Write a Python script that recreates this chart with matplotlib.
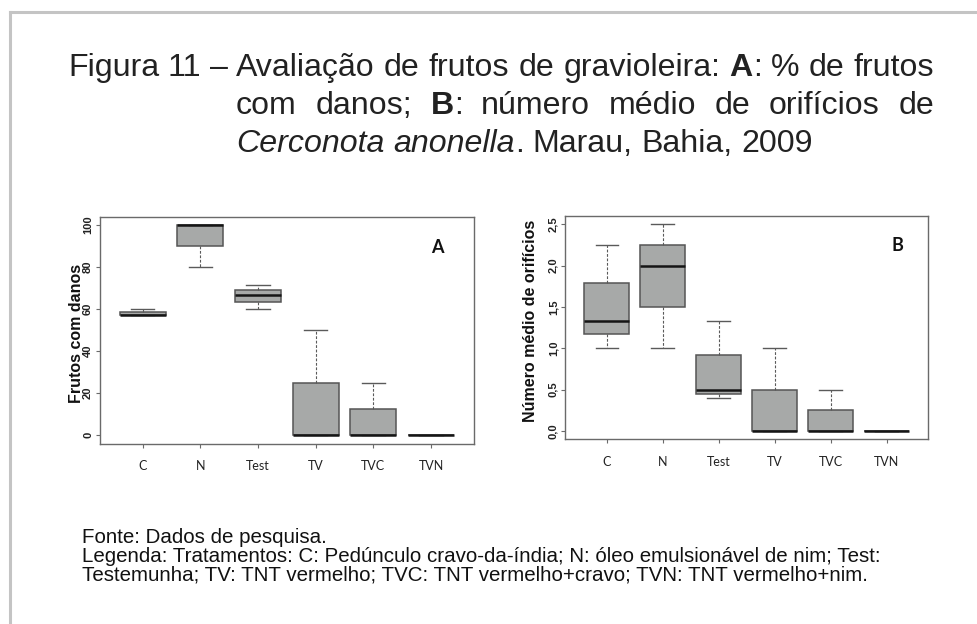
import matplotlib
matplotlib.use("Agg")
import matplotlib.pyplot as plt
from matplotlib.lines import Line2D

W, H = 977, 624

tratamentos = ["C", "N", "Test", "TV", "TVC", "TVN"]

# A: frutos com danos (%)
a_whislo = [57.1, 80, 60, 0, 0, 0]
a_q1 = [57.1, 90, 63.2, 0, 0, 0]
a_med = [57.1, 100, 66.7, 0, 0, 0]
a_q3 = [58.5, 100, 69.2, 25, 12.5, 0]
a_whishi = [60, 100, 71.4, 50, 25, 0]
a_yticks = [0, 20, 40, 60, 80, 100]
a_yticklabels = ["0", "20", "40", "60", "80", "100"]

# B: numero medio de orificios
b_whislo = [1.0, 1.0, 0.4, 0, 0, 0]
b_q1 = [1.17, 1.5, 0.45, 0, 0, 0]
b_med = [1.33, 2.0, 0.5, 0, 0, 0]
b_q3 = [1.79, 2.25, 0.92, 0.5, 0.25, 0]
b_whishi = [2.25, 2.5, 1.33, 1.0, 0.5, 0]
b_yticks = [0, 0.5, 1.0, 1.5, 2.0, 2.5]
b_yticklabels = ["0,0", "0,5", "1,0", "1,5", "2,0", "2,5"]

fig = plt.figure(figsize=(W / 100, H / 100), dpi=100)
renderer = fig.canvas.get_renderer()


def fx(x):
    return x / W


def fy(y):
    return 1 - y / H


def panel(rect, whislo, q1, med, q3, whishi, yticks, yticklabels, ylim, ylabel, lab_x, lab_y, letter, let_x):
    l, t, r, b = rect
    ax = fig.add_axes([fx(l), fy(b), (r - l) / W, (b - t) / H])
    stats = []
    for i, name in enumerate(tratamentos):
        stats.append(dict(label=name, whislo=whislo[i], q1=q1[i], med=med[i],
                          q3=q3[i], whishi=whishi[i], fliers=[]))
    ax.bxp(stats, positions=range(1, 7), widths=0.8, capwidths=0.4,
           patch_artist=True, showfliers=False,
           boxprops=dict(facecolor="#a7a9a8", edgecolor="#555555", linewidth=1.1),
           medianprops=dict(color="#151515", linewidth=1.8, solid_capstyle="butt"),
           whiskerprops=dict(color="#5a5a5a", linewidth=0.8, linestyle=(0, (2.5, 1.5))),
           capprops=dict(color="#5a5a5a", linewidth=1.0))
    ax.set_xlim(0.26, 6.74)
    ax.set_ylim(*ylim)
    for s in ax.spines.values():
        s.set_color("#6a6a6a")
        s.set_linewidth(1.0)
    ax.set_xticks(range(1, 7))
    ax.set_xticklabels(tratamentos, family="Lato", fontsize=9, color="#222222")
    ax.set_yticks(yticks)
    ax.set_yticklabels(yticklabels, rotation=90, va="center", fontweight="bold",
                       fontsize=8, family="Liberation Sans", color="#222222")
    ax.tick_params(axis="x", length=3, width=0.8, color="#6a6a6a", pad=9)
    ax.tick_params(axis="y", length=3, width=0.8, color="#6a6a6a", pad=2)
    ax.text(lab_x, lab_y, ylabel, transform=ax.transAxes, rotation=90,
            ha="center", va="center", fontsize=11.5, fontweight="bold",
            family="Liberation Sans", color="#111111")
    ax.text(let_x, 0.866, letter, transform=ax.transAxes, ha="center", va="center",
            fontsize=13, fontweight="bold", family="Lato", color="#111111")
    return ax


panel((100, 216.6, 473.7, 443.7), a_whislo, a_q1, a_med, a_q3, a_whishi,
      a_yticks, a_yticklabels, (-4, 104), "Frutos com danos", -0.062, 0.485, "A", 0.904)
panel((565.3, 216.0, 928.0, 439.3), b_whislo, b_q1, b_med, b_q3, b_whishi,
      b_yticks, b_yticklabels, (-0.1, 2.6), "Número médio de orifícios", -0.095, 0.53, "B", 0.917)


def text_width(s, **props):
    t = fig.text(0, 0, s, **props)
    w = t.get_window_extent(renderer).width
    t.remove()
    return w


def line_width(words, size):
    base = dict(fontsize=size, family="Liberation Sans")
    space = text_width("n n", **base) - text_width("nn", **base)
    wl = sum(text_width(s, **{**base, **p}) for word in words for s, p in word)
    return wl + space * (len(words) - 1)


def draw_line(words, x0, y, x1=None, size=21, color="#222222"):
    base = dict(fontsize=size, color=color, family="Liberation Sans")
    space = text_width("n n", **base) - text_width("nn", **base)
    wlens = [sum(text_width(s, **{**base, **p}) for s, p in word) for word in words]
    gap = space
    if x1 is not None and len(words) > 1:
        gap = (x1 - x0 - sum(wlens)) / (len(words) - 1)
    x = x0
    for word in words:
        for s, p in word:
            kw = {**base, **p}
            fig.text(fx(x), fy(y), s, ha="left", va="baseline", **kw)
            x += text_width(s, **kw)
        x += gap


def plain(*ws):
    return [[(w, {})] for w in ws]


B = {"fontweight": "bold"}
I = {"style": "italic"}

linha1 = (plain("Avaliação", "de", "frutos", "de", "gravioleira:") + [[("A", B), (":", {})]]
          + plain("%", "de", "frutos"))
TS = 20 * 696 / line_width(linha1, 20)

draw_line(plain("Figura", "11", "–"), 68, 76, size=TS)
draw_line(linha1, 236, 76, 934, size=TS)
draw_line(plain("com", "danos;") + [[("B", B), (":", {})]]
          + plain("número", "médio", "de", "orifícios", "de"), 236, 114, 934, size=TS)
draw_line([[("Cerconota", I)], [("anonella", I), (".", {})]] + plain("Marau,", "Bahia,", "2009"),
          236, 152, size=TS)

rodape = ["Fonte: Dados de pesquisa.",
          "Legenda: Tratamentos: C: Pedúnculo cravo-da-índia; N: óleo emulsionável de nim; Test:",
          "Testemunha; TV: TNT vermelho; TVC: TNT vermelho+cravo; TVN: TNT vermelho+nim."]
fs = 13 * 795 / text_width(rodape[1], fontsize=13, family="Liberation Sans")
em = fs * 100 / 72
fig.text(fx(82), fy(543 - 0.74 * em), "\n".join(rodape), ha="left", va="top",
         fontsize=fs, family="Liberation Sans", color="#111111", linespacing=1.0)

# moldura cinza (topo e esquerda)
fig.add_artist(Line2D([fx(10), 1], [fy(12), fy(12)], color="#c4c4c4", linewidth=2.2,
                      transform=fig.transFigure))
fig.add_artist(Line2D([fx(10), fx(10)], [fy(12), 0], color="#c4c4c4", linewidth=2.2,
                      transform=fig.transFigure))

fig.savefig("out.png", dpi=100)
